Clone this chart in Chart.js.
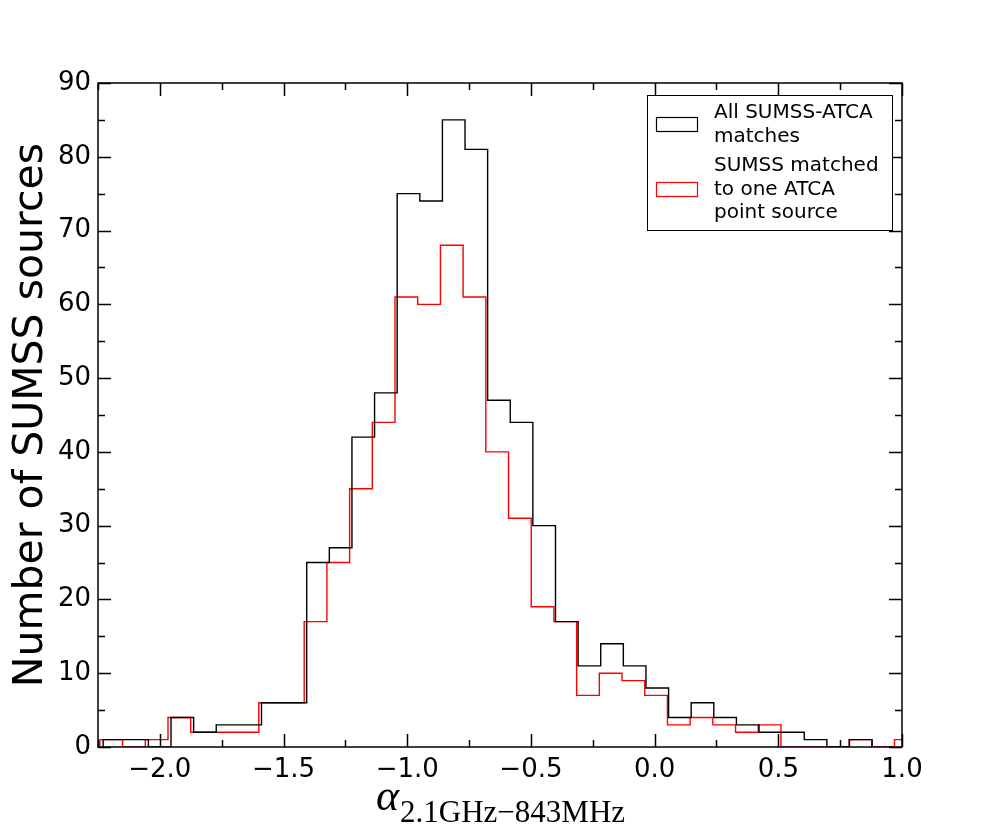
<!DOCTYPE html>
<html>
<head>
<meta charset="utf-8">
<script src="https://cdn.jsdelivr.net/npm/chart.js@4/dist/chart.umd.min.js"></script>
<style>
  html, body { margin: 0; padding: 0; background: #fff; }
  #wrap { width: 1002px; height: 838px; }
</style>
</head>
<body>
<div id="wrap"><canvas id="c" width="1002" height="838"></canvas></div>
<script>
// ---- data ----
const blackBinStart = -2.2291;
const blackBinWidth = 0.09142;
const blackCounts = [1,1,0,4,2,3,3,6,6,25,27,42,48,75,74,85,81,47,44,30,17,11,14,11,8,4,6,4,3,2,2,1,0,1];

const redBinStart = -2.2424;
const redBinWidth = 0.09177;
const redCounts = [1,0,1,4,2,2,2,6,6,17,25,35,44,61,60,68,61,40,31,19,17,7,10,9,7,3,4,3,2,3,0,0,0,1,0,1];

const xTickValues = [-2.0, -1.5, -1.0, -0.5, 0.0, 0.5, 1.0];
const yTickValues = [0, 10, 20, 30, 40, 50, 60, 70, 80, 90];

const legendBlack = ["All SUMSS-ATCA", "matches"];
const legendRed = ["SUMSS matched", "to one ATCA", "point source"];
const yTitle = "Number of SUMSS sources";
const xTitleMain = "\u03B1";
const xTitleSub = "2.1GHz\u2212843MHz";

// step-histogram outline points from bin edges and counts
function stepPoints(start, width, counts) {
  const pts = [{x: start, y: 0}];
  counts.forEach((c, i) => pts.push({x: start + i * width, y: c}));
  pts.push({x: start + counts.length * width, y: 0});
  return pts;
}

const fmt = v => (v < 0 ? "\u2212" : "") + Math.abs(v).toFixed(1);

const framePlugin = {
  id: 'frame',
  afterDatasetsDraw(chart) {
    const ctx = chart.ctx, a = chart.chartArea;
    const xs = chart.scales.x, ys = chart.scales.y;
    ctx.save();
    ctx.strokeStyle = '#000';
    ctx.lineWidth = 1.5;
    ctx.strokeRect(a.left, a.top, a.right - a.left, a.bottom - a.top);
    const major = 13, minor = 7;
    ctx.beginPath();
    xTickValues.forEach(v => {
      [[v, major], [v + 0.25, minor]].forEach(([t, len]) => {
        if (t < xs.min - 1e-9 || t > xs.max + 1e-9) return;
        const p = Math.round(xs.getPixelForValue(t)) + 0.5;
        ctx.moveTo(p, a.bottom); ctx.lineTo(p, a.bottom - len);
        ctx.moveTo(p, a.top); ctx.lineTo(p, a.top + len);
      });
    });
    [xTickValues[0] - 0.25].forEach(t => {
      if (t < xs.min) return;
      const p = Math.round(xs.getPixelForValue(t)) + 0.5;
      ctx.moveTo(p, a.bottom); ctx.lineTo(p, a.bottom - minor);
      ctx.moveTo(p, a.top); ctx.lineTo(p, a.top + minor);
    });
    yTickValues.forEach(v => {
      [[v, major], [v + 5, minor]].forEach(([t, len]) => {
        if (t < ys.min || t > ys.max) return;
        const p = Math.round(ys.getPixelForValue(t)) + 0.5;
        ctx.moveTo(a.left, p); ctx.lineTo(a.left + len, p);
        ctx.moveTo(a.right, p); ctx.lineTo(a.right - len, p);
      });
    });
    ctx.stroke();
    ctx.restore();
  },
  afterDraw(chart) {
    const ctx = chart.ctx, a = chart.chartArea;
    ctx.save();
    // legend box
    const bx = a.right - 255, by = a.top + 12, bw = 245, bh = 135;
    ctx.fillStyle = '#fff';
    ctx.fillRect(bx, by, bw, bh);
    ctx.strokeStyle = '#000';
    ctx.lineWidth = 1;
    ctx.strokeRect(bx + 0.5, by + 0.5, bw, bh);
    ctx.lineWidth = 1.2;
    ctx.strokeStyle = '#000';
    ctx.strokeRect(bx + 9.5, by + 22.5, 41, 14);
    ctx.strokeStyle = '#ff0000';
    ctx.strokeRect(bx + 9.5, by + 87.5, 41, 14);
    ctx.fillStyle = '#000';
    ctx.font = '20px "DejaVu Sans"';
    ctx.textBaseline = 'alphabetic';
    ctx.textAlign = 'left';
    const tx = bx + 67;
    legendBlack.forEach((s, i) => ctx.fillText(s, tx, by + 23 + i * 23.5));
    legendRed.forEach((s, i) => ctx.fillText(s, tx, by + 76 + i * 23.7));
    // x title with subscript
    const fMain = 'italic 44px "Liberation Serif"';
    const fSub = '31px "Liberation Serif"';
    ctx.font = fMain;
    const w1 = ctx.measureText(xTitleMain).width;
    ctx.font = fSub;
    const w2 = ctx.measureText(xTitleSub).width;
    const cx = (a.left + a.right) / 2;
    const x0 = cx - (w1 + w2) / 2;
    ctx.font = fMain;
    ctx.fillText(xTitleMain, x0, 810);
    ctx.font = fSub;
    ctx.fillText(xTitleSub, x0 + w1 + 1, 822);
    ctx.restore();
  }
};

new Chart(document.getElementById('c'), {
  type: 'line',
  data: {
    datasets: [
      {
        label: legendBlack.join(' '),
        data: stepPoints(blackBinStart, blackBinWidth, blackCounts),
        borderColor: '#000000',
        borderWidth: 1.4,
        stepped: true,
        pointRadius: 0,
        fill: false,
        clip: 0
      },
      {
        label: legendRed.join(' '),
        data: stepPoints(redBinStart, redBinWidth, redCounts),
        borderColor: '#ff0000',
        borderWidth: 1.4,
        stepped: true,
        pointRadius: 0,
        fill: false,
        clip: 0
      }
    ]
  },
  options: {
    responsive: false,
    animation: false,
    devicePixelRatio: 1,
    layout: { padding: { left: 0, top: 83, right: 100, bottom: 0 } },
    plugins: { legend: { display: false }, tooltip: { enabled: false } },
    scales: {
      x: {
        type: 'linear',
        min: -2.25,
        max: 1.0,
        grid: { display: false, drawTicks: false },
        border: { display: false },
        afterBuildTicks: s => { s.ticks = xTickValues.map(v => ({ value: v })); },
        afterFit: s => { s.height = 91; },
        ticks: {
          color: '#000',
          padding: 8,
          maxRotation: 0,
          font: { family: 'DejaVu Sans', size: 26 },
          callback: v => fmt(v)
        }
      },
      y: {
        type: 'linear',
        min: 0,
        max: 90,
        grid: { display: false, drawTicks: false },
        border: { display: false },
        afterBuildTicks: s => { s.ticks = yTickValues.map(v => ({ value: v })); },
        afterFit: s => { s.width = 98; },
        ticks: {
          color: '#000',
          padding: 7,
          font: { family: 'DejaVu Sans', size: 26 },
          callback: v => String(v)
        },
        title: {
          display: true,
          text: yTitle,
          color: '#000',
          font: { family: 'DejaVu Sans', size: 41 },
          padding: { top: 7, bottom: 0 }
        }
      }
    }
  },
  plugins: [framePlugin]
});
</script>
</body>
</html>
